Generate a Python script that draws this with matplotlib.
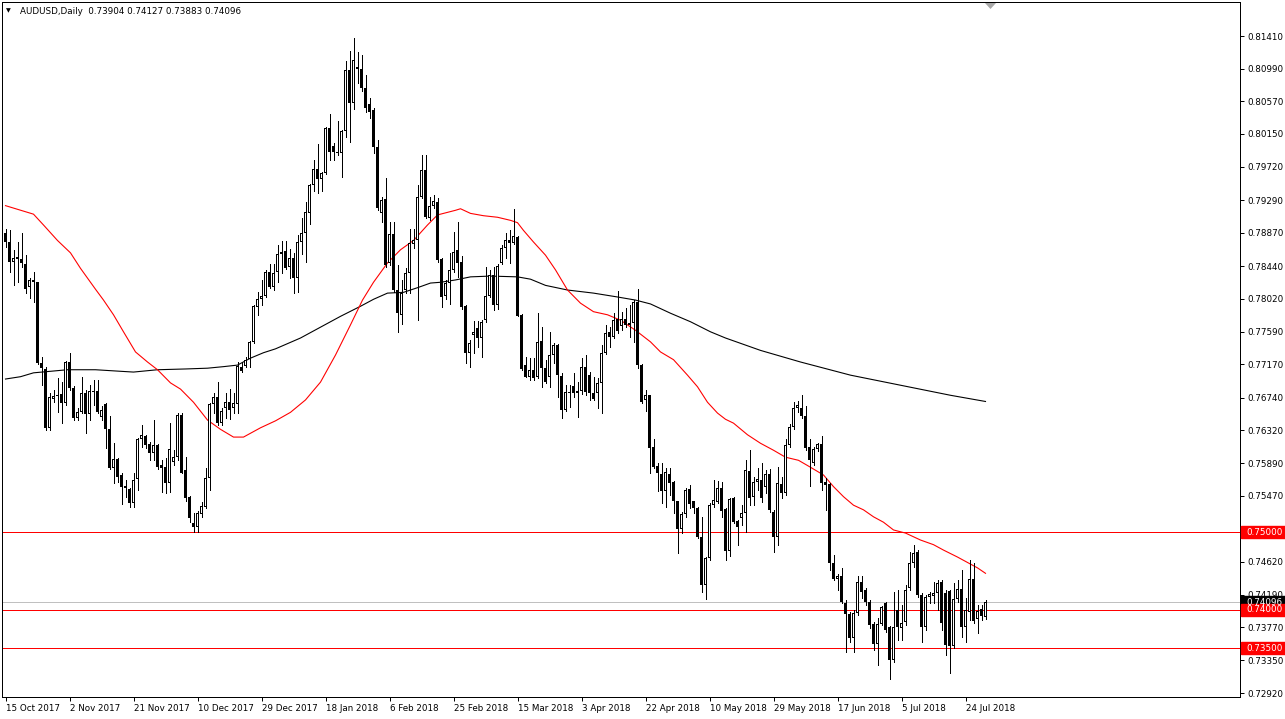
import matplotlib
matplotlib.use("Agg")
import matplotlib.pyplot as plt
import matplotlib.transforms as mtransforms
from matplotlib.patches import Rectangle, Polygon
import numpy as np

plt.rcParams['font.family'] = ['DejaVu Sans']

# ---------------- data (AUDUSD daily) ----------------
opens = [
    .7887, .7875, .7849, .7856, .7853, .7847, .7817, .7826, .7823, .7719,
    .7711, .7635, .7672, .7677, .7679, .7667, .7720, .7686, .7648, .7655,
    .7680, .7653, .7682, .7682, .7649, .7666, .7633, .7583, .7595, .7574,
    .7560, .7556, .7538, .7569, .7621, .7624, .7614, .7603, .7613, .7587,
    .7584, .7564, .7591, .7597, .7652, .7580, .7546, .7512, .7507, .7524,
    .7533, .7570, .7666, .7675, .7641, .7660, .7668, .7660, .7666, .7714,
    .7715, .7724, .7746, .7791, .7801, .7805, .7836, .7817, .7836, .7859,
    .7864, .7843, .7854, .7829, .7875, .7887, .7912, .7949, .7969, .7956,
    .7964, .8022, .7999, .7991, .7990, .8018, .8097, .8055, .8101, .8099,
    .8074, .8053, .8046, .7998, .7912, .7931, .7848, .7885, .7813, .7781,
    .7813, .7835, .7873, .7877, .7933, .7968, .7906, .7922, .7927, .7853,
    .7805, .7822, .7839, .7865, .7849, .7792, .7732, .7755, .7764, .7751,
    .7774, .7805, .7832, .7794, .7848, .7867, .7877, .7874, .7882, .7781,
    .7716, .7701, .7710, .7701, .7747, .7712, .7701, .7729, .7742, .7702,
    .7658, .7681, .7689, .7680, .7682, .7714, .7703, .7680, .7680, .7693,
    .7732, .7759, .7752, .7775, .7766, .7776, .7768, .7770, .7798, .7716,
    .7671, .7677, .7610, .7585, .7575, .7553, .7575, .7565, .7540, .7504,
    .7523, .7556, .7540, .7532, .7494, .7432, .7467, .7535, .7539, .7557,
    .7530, .7476, .7544, .7514, .7518, .7525, .7579, .7546, .7565, .7568,
    .7559, .7575, .7526, .7494, .7563, .7551, .7613, .7636, .7660, .7660,
    .7650, .7610, .7590, .7607, .7614, .7565, .7563, .7460, .7440, .7443,
    .7409, .7394, .7363, .7396, .7436, .7425, .7410, .7382, .7356, .7381,
    .7409, .7378, .7335, .7400, .7376, .7384, .7428, .7460, .7474, .7419,
    .7378, .7416, .7418, .7421, .7436, .7422, .7424, .7353, .7414, .7427,
    .7378, .7397, .7440, .7388, .7401, .73904,
]
highs = [
    .7892, .7890, .7865, .7875, .7887, .7858, .7829, .7836, .7824, .7727,
    .7714, .7680, .7684, .7699, .7694, .7721, .7732, .7689, .7661, .7701,
    .7684, .7690, .7697, .7697, .7663, .7667, .7650, .7615, .7596, .7577,
    .7568, .7557, .7577, .7622, .7639, .7626, .7617, .7645, .7614, .7594,
    .7596, .7641, .7606, .7654, .7654, .7597, .7547, .7525, .7527, .7539,
    .7583, .7667, .7680, .7694, .7661, .7680, .7685, .7680, .7720, .7720,
    .7727, .7747, .7794, .7811, .7826, .7839, .7847, .7847, .7871, .7876,
    .7876, .7866, .7861, .7884, .7906, .7927, .7950, .7981, .8002, .7965,
    .8024, .8040, .8003, .8031, .8020, .8109, .8122, .8139, .8120, .8117,
    .8091, .8061, .8048, .8007, .7933, .7958, .7901, .7901, .7845, .7826,
    .7841, .7892, .7892, .7949, .7987, .7987, .7933, .7936, .7932, .7854,
    .7826, .7861, .7888, .7901, .7857, .7794, .7748, .7773, .7773, .7774,
    .7843, .7839, .7843, .7847, .7871, .7887, .7890, .7918, .7883, .7782,
    .7727, .7725, .7725, .7783, .7765, .7723, .7759, .7745, .7743, .7706,
    .7690, .7690, .7706, .7694, .7725, .7729, .7707, .7701, .7699, .7742,
    .7768, .7765, .7783, .7812, .7785, .7790, .7794, .7800, .7814, .7717,
    .7684, .7678, .7620, .7590, .7590, .7583, .7583, .7566, .7541, .7526,
    .7557, .7561, .7541, .7533, .7520, .7468, .7538, .7568, .7566, .7565,
    .7532, .7544, .7546, .7516, .7535, .7594, .7606, .7572, .7583, .7590,
    .7580, .7582, .7529, .7584, .7572, .7621, .7640, .7668, .7670, .7677,
    .7663, .7620, .7610, .7615, .7624, .7570, .7564, .7471, .7446, .7454,
    .7413, .7397, .7400, .7444, .7444, .7428, .7413, .7384, .7389, .7405,
    .7410, .7379, .7423, .7425, .7406, .7432, .7474, .7484, .7477, .7422,
    .7419, .7423, .7436, .7438, .7438, .7426, .7426, .7435, .7438, .7451,
    .7415, .7464, .7460, .7406, .7406, .74127,
]
lows = [
    .7869, .7836, .7819, .7823, .7843, .7809, .7803, .7797, .7717, .7690,
    .7632, .7632, .7668, .7655, .7641, .7664, .7684, .7645, .7645, .7654,
    .7628, .7645, .7664, .7654, .7645, .7609, .7582, .7564, .7565, .7536,
    .7546, .7533, .7533, .7555, .7610, .7609, .7594, .7594, .7582, .7552,
    .7551, .7552, .7587, .7594, .7576, .7540, .7513, .7500, .7500, .7520,
    .7532, .7555, .7654, .7639, .7639, .7648, .7646, .7654, .7654, .7707,
    .7714, .7714, .7745, .7781, .7794, .7804, .7816, .7813, .7824, .7835,
    .7840, .7829, .7809, .7811, .7860, .7849, .7898, .7941, .7938, .7941,
    .7963, .7981, .7981, .7987, .7959, .8011, .8004, .8047, .8081, .8070,
    .8043, .8035, .7990, .7916, .7901, .7843, .7845, .7811, .7759, .7769,
    .7809, .7809, .7867, .7774, .7932, .7906, .7903, .7919, .7849, .7791,
    .7801, .7795, .7836, .7830, .7789, .7719, .7714, .7732, .7739, .7727,
    .7772, .7804, .7787, .7789, .7847, .7854, .7848, .7873, .7779, .7710,
    .7700, .7697, .7697, .7699, .7688, .7693, .7688, .7719, .7675, .7648,
    .7657, .7662, .7675, .7649, .7679, .7677, .7671, .7671, .7661, .7654,
    .7730, .7739, .7751, .7757, .7761, .7765, .7752, .7746, .7712, .7667,
    .7657, .7577, .7583, .7553, .7538, .7533, .7548, .7525, .7473, .7499,
    .7520, .7532, .7525, .7492, .7423, .7414, .7464, .7533, .7538, .7520,
    .7464, .7469, .7512, .7484, .7509, .7500, .7535, .7535, .7555, .7539,
    .7551, .7526, .7475, .7484, .7544, .7548, .7610, .7633, .7655, .7648,
    .7606, .7560, .7587, .7605, .7555, .7529, .7451, .7438, .7425, .7408,
    .7345, .7358, .7345, .7393, .7415, .7406, .7376, .7348, .7329, .7380,
    .7371, .7310, .7333, .7361, .7361, .7380, .7425, .7455, .7416, .7358,
    .7374, .7409, .7409, .7400, .7374, .7341, .7318, .7350, .7410, .7365,
    .7358, .7387, .7383, .7370, .7387, .73883,
]
closes = [
    .7875, .7849, .7854, .7853, .7848, .7814, .7826, .7823, .7719, .7712,
    .7635, .7675, .7676, .7676, .7667, .7720, .7686, .7648, .7655, .7680,
    .7653, .7682, .7681, .7655, .7658, .7633, .7583, .7595, .7572, .7559,
    .7557, .7538, .7568, .7621, .7626, .7613, .7603, .7613, .7584, .7583,
    .7564, .7607, .7597, .7652, .7577, .7544, .7518, .7507, .7525, .7534,
    .7570, .7666, .7675, .7641, .7657, .7668, .7658, .7667, .7715, .7708,
    .7723, .7746, .7792, .7801, .7805, .7836, .7817, .7835, .7860, .7862,
    .7841, .7854, .7829, .7875, .7887, .7914, .7949, .7969, .7956, .7964,
    .8022, .7991, .7991, .7990, .8018, .8097, .8055, .8110, .8099, .8074,
    .8048, .8043, .7998, .7919, .7929, .7845, .7885, .7813, .7783, .7809,
    .7835, .7874, .7877, .7933, .7968, .7907, .7922, .7928, .7852, .7804,
    .7822, .7839, .7862, .7848, .7791, .7732, .7745, .7759, .7751, .7772,
    .7805, .7832, .7794, .7844, .7867, .7877, .7874, .7883, .7780, .7711,
    .7701, .7710, .7699, .7746, .7712, .7694, .7729, .7742, .7703, .7658,
    .7681, .7680, .7680, .7682, .7714, .7681, .7680, .7672, .7693, .7732,
    .7757, .7752, .7774, .7760, .7776, .7768, .7770, .7798, .7716, .7668,
    .7677, .7609, .7584, .7577, .7553, .7578, .7564, .7540, .7504, .7523,
    .7555, .7537, .7532, .7494, .7432, .7467, .7535, .7542, .7557, .7527,
    .7476, .7543, .7513, .7507, .7525, .7580, .7544, .7565, .7569, .7544,
    .7575, .7529, .7494, .7564, .7551, .7613, .7636, .7660, .7665, .7650,
    .7609, .7593, .7607, .7614, .7564, .7561, .7460, .7440, .7443, .7410,
    .7394, .7363, .7396, .7436, .7423, .7410, .7380, .7356, .7381, .7403,
    .7374, .7335, .7378, .7378, .7383, .7425, .7460, .7473, .7419, .7378,
    .7416, .7420, .7421, .7434, .7383, .7354, .7353, .7414, .7427, .7378,
    .7400, .7440, .7386, .7398, .7392, .74096,
]

# moving averages (bar index, value)
red_ma_idx = [0, 7, 9.5, 13, 16.25, 18.75, 22.5, 24.5, 27, 29.5,
              32.5, 35.5, 38, 41.25, 43.75, 47, 50.5, 53.75, 57, 59.5,
              63.75, 67.5, 71.25, 75, 78.75, 82.5, 86.25, 89.25, 92, 95.5,
              98.75, 102, 105.5, 108, 112.5, 113.75, 116.25, 119.5, 123, 126.25,
              128, 129.5, 132, 135, 137.5, 140.5, 143.75, 147, 150.5, 153.75,
              157.5, 161.25, 163.75, 167, 170.5, 173, 175.5, 178, 180, 182,
              185.5, 188.75, 192, 195, 198.25, 201.25, 204.5, 207, 209.5, 212,
              214.5, 217, 219.5, 222, 225, 228.75, 232, 234.5, 238, 240.5,
              243, 245]
red_ma_val = [.7922, .7911, .7897, .7877, .7861, .7841, .7814, .7800, .7781, .7759,
              .7733, .7720, .7710, .7693, .7685, .7668, .7645, .7633, .7623, .7623,
              .7635, .7644, .7655, .7671, .7694, .7729, .7768, .7800, .7823, .7848,
              .7865, .7877, .7897, .7910, .7916, .7918, .7912, .7909, .7907, .7903,
              .7900, .7890, .7875, .7858, .7839, .7813, .7796, .7785, .7781, .7774,
              .7761, .7746, .7733, .7723, .7703, .7688, .7668, .7654, .7646, .7641,
              .7626, .7615, .7606, .7597, .7593, .7584, .7574, .7559, .7546, .7535,
              .7529, .7520, .7513, .7503, .7499, .7490, .7484, .7477, .7468, .7461,
              .7454, .7447]
black_ma_idx = [0, 3.75, 7, 11.25, 15.5, 22.5, 28.75, 32, 38, 45,
                50.5, 54.5, 58, 61.25, 64.5, 67.5, 73.75, 78.75, 83.75, 88.75,
                92, 95.5, 99.5, 103, 106.25, 108.75, 112.5, 116.25, 121.25, 128,
                131.25, 135, 140.5, 147, 153, 157.5, 161.25, 166.25, 171.25, 176.25,
                180, 188.75, 198.75, 211.25, 223.75, 236.25, 245]
black_ma_val = [.7698, .7701, .7706, .7708, .7710, .7710, .7708, .7707, .7710, .7711,
                .7712, .7714, .7716, .7725, .7732, .7737, .7751, .7765, .7779, .7792,
                .7801, .7809, .7810, .7816, .7822, .7823, .7826, .7830, .7831, .7830,
                .7827, .7819, .7813, .7809, .7804, .7800, .7795, .7783, .7772, .7759,
                .7751, .7735, .7720, .7703, .7690, .7677, .7669]

date_labels = ["15 Oct 2017", "2 Nov 2017", "21 Nov 2017", "10 Dec 2017",
               "29 Dec 2017", "18 Jan 2018", "6 Feb 2018", "25 Feb 2018",
               "15 Mar 2018", "3 Apr 2018", "22 Apr 2018", "10 May 2018",
               "29 May 2018", "17 Jun 2018", "5 Jul 2018", "24 Jul 2018"]
price_ticks = [0.81410, 0.80990, 0.80570, 0.80150, 0.79720, 0.79290, 0.78870,
               0.78440, 0.78020, 0.77590, 0.77170, 0.76740, 0.76320, 0.75890,
               0.75470, 0.75040, 0.74620, 0.74190, 0.73770, 0.73350, 0.72920]
levels = [0.75000, 0.74000, 0.73500]
symbol = "AUDUSD,Daily"

# ---------------- layout ----------------
W, H, DPI = 1285, 719, 100
L, R, T, B = 2, 1240, 2, 697
FIRST_PX, STEP = 5.5, 4.0
YMAX, YMIN = 0.81851, 0.72872
FS = 6.3
PX = 72.0 / DPI  # one pixel in points

fig = plt.figure(figsize=(W / DPI, H / DPI), dpi=DPI)
fig.patch.set_facecolor('white')
ax = fig.add_axes([L / W, 1 - B / H, (R - L) / W, (B - T) / H])
ax.set_facecolor('white')
ax.set_xlim((L - FIRST_PX) / STEP, (R - FIRST_PX) / STEP)
ax.set_ylim(YMIN, YMAX)
for s in ax.spines.values():
    s.set_color('black')
    s.set_linewidth(PX)

ppp = (B - T) / (YMAX - YMIN)   # pixels per price unit
one_px = 1.0 / ppp

n = len(closes)
idx = np.arange(n)

# level lines
for lv in levels:
    ax.axhline(lv, color='#FF0000', lw=PX, zorder=1, antialiased=False)
last_price = closes[-1]
ax.axhline(last_price, color='#C0C0C0', lw=PX, zorder=1, antialiased=False)

# moving averages
ax.plot(black_ma_idx, black_ma_val, color='black', lw=PX * 1.1, zorder=2)
ax.plot(red_ma_idx, red_ma_val, color='#FF0000', lw=PX * 1.1, zorder=2)

# candles: 1px wicks, 3px bodies, hollow (white) bodies for up days
ax.vlines(idx, lows, highs, colors='black', lw=PX, antialiased=False, zorder=3)
bw = 3.0 / STEP
iw = 1.0 / STEP
for i in range(n):
    o, c = opens[i], closes[i]
    lo, hi = min(o, c), max(o, c)
    h = max(hi - lo, one_px)
    ax.add_patch(Rectangle((i - bw / 2, lo), bw, h, facecolor='black',
                           edgecolor='none', antialiased=False, zorder=4))
    if c > o and (hi - lo) > 2 * one_px:
        ax.add_patch(Rectangle((i - iw / 2, lo + one_px), iw, (hi - lo) - 2 * one_px,
                               facecolor='white', edgecolor='none',
                               antialiased=False, zorder=5))

# axes ticks
ax.yaxis.tick_right()
ax.set_yticks(price_ticks)
ax.set_yticklabels([f"{v:.5f}" for v in price_ticks])
ax.tick_params(axis='y', direction='out', length=3, width=PX, pad=2,
               labelsize=FS, colors='black')
ax.set_xticks(np.arange(0, 16 * len(date_labels), 16))
ax.set_xticklabels(date_labels, ha='left')
ax.tick_params(axis='x', direction='out', length=3, width=PX, pad=2,
               labelsize=FS, colors='black')

# price boxes on the right axis
tr = mtransforms.blended_transform_factory(fig.transFigure, ax.transData)
bh = 12 / ppp


def price_box(val, color):
    ax.add_patch(Rectangle((1241 / W, val - bh / 2), 44 / W, bh, transform=tr,
                           facecolor=color, edgecolor=color, clip_on=False, zorder=10))
    ax.text(1246 / W, val, f"{val:.5f}", transform=tr, color='white', fontsize=FS,
            va='center', ha='left', clip_on=False, zorder=11)


price_box(last_price, 'black')
for lv in levels:
    price_box(lv, '#FF0000')

# header
fig.text(6 / W, 1 - 11 / H, "\u25BC", fontsize=4.5, va='center', ha='left')
fig.text(20 / W, 1 - 11 / H,
         f"{symbol}  {opens[-1]:.5f} {highs[-1]:.5f} {lows[-1]:.5f} {closes[-1]:.5f}",
         fontsize=FS, va='center', ha='left')

# chart-shift marker
fig.add_artist(Polygon([(985 / W, 1 - 3 / H), (996 / W, 1 - 3 / H), (990.5 / W, 1 - 9 / H)],
                       closed=True, transform=fig.transFigure, facecolor='#A8A8A8',
                       edgecolor='none'))

fig.savefig("out.png", dpi=DPI, facecolor='white')
